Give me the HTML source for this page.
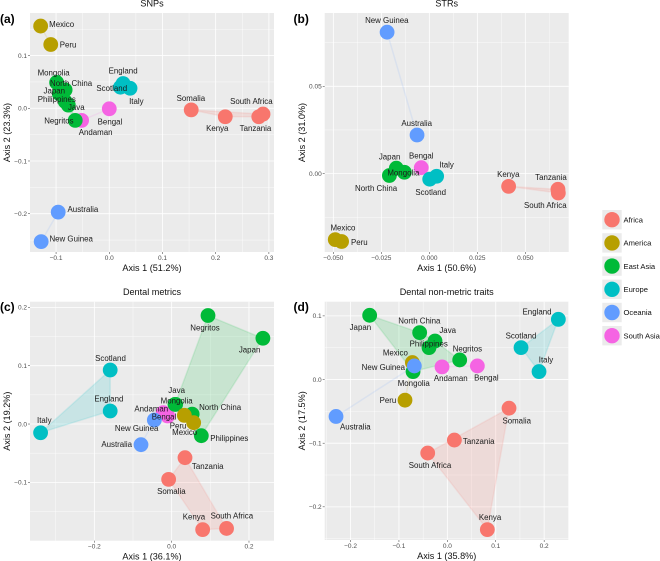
<!DOCTYPE html>
<html lang="en">
<head>
<meta charset="utf-8">
<title>Ordination plots</title>
<style>
html,body{margin:0;padding:0;background:#fff;}
svg{display:block;font-family:"Liberation Sans",sans-serif;}
</style>
</head>
<body>
<svg id="figure" xmlns="http://www.w3.org/2000/svg" width="660" height="561" viewBox="0 0 660 561"></svg>
<script>
// ---------- Legend data ----------
const groupNames = ["Africa", "America", "East Asia", "Europe", "Oceania", "South Asia"];

// ---------- (a) SNPs ----------
const snpNames = ["Andaman", "Bengal", "Mongolia", "North China", "Japan", "Philippines", "Java", "Negritos", "Mexico", "Peru", "England", "Scotland", "Italy", "Australia", "New Guinea", "Somalia", "Kenya", "Tanzania", "South Africa"];
const snpGroups = ["South Asia", "South Asia", "East Asia", "East Asia", "East Asia", "East Asia", "East Asia", "East Asia", "America", "America", "Europe", "Europe", "Europe", "Oceania", "Oceania", "Africa", "Africa", "Africa", "Africa"];
const snpX = [-0.052, 0, -0.099, -0.083, -0.094, -0.083, -0.077, -0.064, -0.129, -0.11, 0.026, 0.021, 0.039, -0.096, -0.128, 0.154, 0.218, 0.281, 0.289];
const snpY = [-0.023, -0.001, 0.049, 0.035, 0.028, 0.013, 0.006, -0.023, 0.156, 0.121, 0.047, 0.04, 0.038, -0.197, -0.253, -0.003, -0.016, -0.016, -0.011];
const snpXTicks = [-0.1, 0, 0.1, 0.2, 0.3];
const snpYTicks = [-0.2, -0.1, 0, 0.1];
const snpXTickLabels = ["\u22120.1", "0.0", "0.1", "0.2", "0.3"];
const snpYTickLabels = ["\u22120.2", "\u22120.1", "0.0", "0.1"];

// ---------- (b) STRs ----------
const strNames = ["Bengal", "Japan", "Mongolia", "North China", "Mexico", "Peru", "Italy", "Scotland", "New Guinea", "Australia", "Kenya", "Tanzania", "South Africa"];
const strGroups = ["South Asia", "East Asia", "East Asia", "East Asia", "America", "America", "Europe", "Europe", "Oceania", "Oceania", "Africa", "Africa", "Africa"];
const strX = [-0.0042, -0.0172, -0.013, -0.0208, -0.049, -0.0457, 0.0038, 0.0002, -0.022, -0.0064, 0.0413, 0.067, 0.0672];
const strY = [0.0034, 0.0031, 0.0008, -0.0011, -0.0378, -0.0389, -0.0015, -0.0032, 0.081, 0.0221, -0.0073, -0.009, -0.0111];
const strXTicks = [-0.05, -0.025, 0, 0.025, 0.05];
const strYTicks = [0, 0.05];
const strXTickLabels = ["\u22120.050", "\u22120.025", "0.000", "0.025", "0.050"];
const strYTickLabels = ["0.00", "0.05"];

// ---------- (c) Dental metrics ----------
const metricNames = ["Andaman", "Bengal", "Negritos", "Japan", "Java", "Mongolia", "North China", "Philippines", "Peru", "Mexico", "Scotland", "England", "Italy", "New Guinea", "Australia", "Tanzania", "Somalia", "Kenya", "South Africa"];
const metricGroups = ["South Asia", "South Asia", "East Asia", "East Asia", "East Asia", "East Asia", "East Asia", "East Asia", "America", "America", "Europe", "Europe", "Europe", "Oceania", "Oceania", "Africa", "Africa", "Africa", "Africa"];
const metricX = [-0.0216, -0.0103, 0.094, 0.236, 0.0103, 0.0086, 0.053, 0.0767, 0.0328, 0.0569, -0.159, -0.159, -0.339, -0.0448, -0.0793, 0.0345, -0.0078, 0.0802, 0.142];
const metricY = [0.0194, 0.0137, 0.186, 0.147, 0.0337, 0.0337, 0.017, -0.02, 0.0149, 0.0023, 0.0926, 0.0223, -0.0149, 0.0069, -0.0354, -0.0577, -0.0949, -0.181, -0.179];
const metricXTicks = [-0.2, 0, 0.2];
const metricYTicks = [-0.1, 0, 0.1, 0.2];
const metricXTickLabels = ["\u22120.2", "0.0", "0.2"];
const metricYTickLabels = ["\u22120.1", "0.0", "0.1", "0.2"];

// ---------- (d) Dental non-metric traits ----------
const traitNames = ["Andaman", "Bengal", "Japan", "North China", "Java", "Philippines", "Negritos", "Mongolia", "Mexico", "Peru", "England", "Scotland", "Italy", "New Guinea", "Australia", "Somalia", "Tanzania", "South Africa", "Kenya"];
const traitGroups = ["South Asia", "South Asia", "East Asia", "East Asia", "East Asia", "East Asia", "East Asia", "East Asia", "America", "America", "Europe", "Europe", "Europe", "Oceania", "Oceania", "Africa", "Africa", "Africa", "Africa"];
const traitX = [-0.011, 0.062, -0.1605, -0.0572, -0.0255, -0.0379, 0.0255, -0.0709, -0.0723, -0.0875, 0.2293, 0.1522, 0.1894, -0.0682, -0.23, 0.1274, 0.0145, -0.0406, 0.0826];
const traitY = [0.0199, 0.0214, 0.1009, 0.0737, 0.0606, 0.0502, 0.0308, 0.0125, 0.0267, -0.0324, 0.0946, 0.0502, 0.0125, 0.0214, -0.058, -0.045, -0.0951, -0.1155, -0.2358];
const traitXTicks = [-0.2, -0.1, 0, 0.1, 0.2];
const traitYTicks = [-0.2, -0.1, 0, 0.1];
const traitXTickLabels = ["\u22120.2", "\u22120.1", "0.0", "0.1", "0.2"];
const traitYTickLabels = ["\u22120.2", "\u22120.1", "0.0", "0.1"];

// ---------- Layout (not data) ----------
const palette = {"Africa": "#F8766D", "America": "#B79F00", "East Asia": "#00BA38", "Europe": "#00BFC4", "Oceania": "#619CFF", "South Asia": "#F564E3"};
const panels = [
  {
    id: "snps", tag: "(a)", title: "SNPs", xTitle: "Axis 1 (51.2%)", yTitle: "Axis 2 (23.3%)",
    box: {l: 30, r: 274, t: 13, b: 252}, xDomain: [-0.149, 0.3096], yDomain: [-0.2727, 0.1808],
    names: snpNames, groups: snpGroups, xs: snpX, ys: snpY,
    xTicks: snpXTicks, yTicks: snpYTicks, xTickLabels: snpXTickLabels, yTickLabels: snpYTickLabels,
    titleY: 3.5, tagX: 0, tagY: 19, yTitleX: 7,
    nudges: {"Mexico": [21, -1.7], "Peru": [17.3, 0.3], "Mongolia": [-3, -10], "North China": [6, -6.7], "Japan": [-5, -3], "Philippines": [-8.3, -2.3], "Java": [8, 2], "Negritos": [-16.3, 0.3], "Andaman": [14, 11.7], "Bengal": [0.7, 12.7], "England": [0, -13], "Scotland": [-8.7, 1], "Italy": [6.3, 12.7], "Somalia": [-0.3, -11.7], "Kenya": [-8, 11.7], "Tanzania": [-3.3, 11.3], "South Africa": [-11.7, -13], "Australia": [24.7, -2.7], "New Guinea": [30, -2.7]}
  },
  {
    id: "strs", tag: "(b)", title: "STRs", xTitle: "Axis 1 (50.6%)", yTitle: "Axis 2 (31.0%)",
    box: {l: 324.7, r: 568.7, t: 13, b: 252}, xDomain: [-0.0545, 0.0726], yDomain: [-0.0449, 0.092],
    names: strNames, groups: strGroups, xs: strX, ys: strY,
    xTicks: strXTicks, yTicks: strYTicks, xTickLabels: strXTickLabels, yTickLabels: strYTickLabels,
    titleY: 3.5, tagX: 293.5, tagY: 19, yTitleX: 302,
    nudges: {"New Guinea": [-0.3, -12], "Australia": [-0.3, -12], "Japan": [-6.7, -11.3], "Mongolia": [-1, 0.3], "North China": [-13.3, 12.7], "Bengal": [0, -12], "Italy": [10, -11.3], "Scotland": [1, 13], "Kenya": [-0.3, -12.3], "Tanzania": [-7, -12], "South Africa": [-13, 12.3], "Mexico": [7.7, -12], "Peru": [17.7, 0.7]}
  },
  {
    id: "metrics", tag: "(c)", title: "Dental metrics", xTitle: "Axis 1 (36.1%)", yTitle: "Axis 2 (19.2%)",
    box: {l: 30, r: 274, t: 301.7, b: 540.7}, xDomain: [-0.3664, 0.2647], yDomain: [-0.2, 0.2097],
    names: metricNames, groups: metricGroups, xs: metricX, ys: metricY,
    xTicks: metricXTicks, yTicks: metricYTicks, xTickLabels: metricXTickLabels, yTickLabels: metricYTickLabels,
    titleY: 292, tagX: 0, tagY: 307, yTitleX: 7,
    nudges: {"Negritos": [-3, 12.3], "Japan": [-13.3, 11.3], "Scotland": [0.3, -11.7], "England": [-1.3, -12.3], "Italy": [3.7, -12.7], "Java": [1, -14.3], "Mongolia": [1.7, -3.7], "North China": [28, -7], "Andaman": [-12, -4], "Bengal": [-3.7, 0.7], "New Guinea": [-17.7, 8], "Australia": [-24.3, -0.3], "Peru": [-6.3, 10.3], "Mexico": [-9, 9.3], "Philippines": [28, 2.3], "Tanzania": [22.7, 8.3], "Somalia": [2.7, 12], "Kenya": [-8.7, -12.7], "South Africa": [5.3, -12.7]}
  },
  {
    id: "traits", tag: "(d)", title: "Dental non-metric traits", xTitle: "Axis 1 (35.8%)", yTitle: "Axis 2 (17.5%)",
    box: {l: 324.7, r: 568.7, t: 301.7, b: 540}, xDomain: [-0.2534, 0.2507], yDomain: [-0.2521, 0.1223],
    names: traitNames, groups: traitGroups, xs: traitX, ys: traitY,
    xTicks: traitXTicks, yTicks: traitYTicks, xTickLabels: traitXTickLabels, yTickLabels: traitYTickLabels,
    titleY: 292, tagX: 293.5, tagY: 307, yTitleX: 302,
    nudges: {"Japan": [-9.3, 11.7], "North China": [-0.3, -12], "Java": [12.7, -10.7], "Philippines": [-0.3, -3.7], "Negritos": [7.7, -11], "Mongolia": [0.7, 11.7], "Mexico": [-17, -10], "New Guinea": [-31, 1.3], "Andaman": [8.7, 11.3], "Bengal": [9, 12], "Peru": [-17, 0], "Australia": [19.3, 10], "England": [-21.3, -7.7], "Scotland": [0, -12], "Italy": [7, -11.7], "Somalia": [7.7, 12.7], "Tanzania": [24.3, 1], "South Africa": [2.3, 12.3], "Kenya": [2.7, -12.3]}
  }
];

const SVG_NS = "http://www.w3.org/2000/svg";
const root = document.getElementById("figure");

function make(tag, attrs, parent, content) {
  const el = document.createElementNS(SVG_NS, tag);
  for (const k in attrs) el.setAttribute(k, attrs[k]);
  if (content !== undefined) el.textContent = content;
  parent.appendChild(el);
  return el;
}

function linearScale(domain, range) {
  return function (v) {
    return range[0] + (v - domain[0]) / (domain[1] - domain[0]) * (range[1] - range[0]);
  };
}

function minorTicks(ticks, domain) {
  const step = ticks.length > 1 ? ticks[1] - ticks[0] : 0.05;
  const out = [];
  for (let v = ticks[0] - step / 2; v <= domain[1]; v += step) {
    if (v >= domain[0]) out.push(v);
  }
  return out;
}

function convexHull(pts) {
  const p = pts.slice().sort(function (a, b) { return a[0] - b[0] || a[1] - b[1]; });
  if (p.length < 3) return p;
  const cross = function (o, a, b) { return (a[0] - o[0]) * (b[1] - o[1]) - (a[1] - o[1]) * (b[0] - o[0]); };
  const lower = [];
  for (const q of p) {
    while (lower.length >= 2 && cross(lower[lower.length - 2], lower[lower.length - 1], q) <= 0) lower.pop();
    lower.push(q);
  }
  const upper = [];
  for (const q of p.slice().reverse()) {
    while (upper.length >= 2 && cross(upper[upper.length - 2], upper[upper.length - 1], q) <= 0) upper.pop();
    upper.push(q);
  }
  lower.pop();
  upper.pop();
  return lower.concat(upper);
}

function slug(s) {
  return s.toLowerCase().replace(/[^a-z0-9]+/g, "-");
}

function drawPanel(cfg) {
  const box = cfg.box;
  const xScale = linearScale(cfg.xDomain, [box.l, box.r]);
  const yScale = linearScale(cfg.yDomain, [box.b, box.t]);

  const g = make("g", {}, root);
  
  

  const bg = make("rect", {x: box.l, y: box.t, width: box.r - box.l, height: box.b - box.t, fill: "#EBEBEB"}, g);
  
  

  // gridlines
  const grid = make("g", {stroke: "#fff", fill: "none"}, g);
  
  
  minorTicks(cfg.xTicks, cfg.xDomain).forEach(function (v) {
    make("line", {x1: xScale(v), x2: xScale(v), y1: box.t, y2: box.b, "stroke-width": 0.4}, grid);
  });
  minorTicks(cfg.yTicks, cfg.yDomain).forEach(function (v) {
    make("line", {x1: box.l, x2: box.r, y1: yScale(v), y2: yScale(v), "stroke-width": 0.4}, grid);
  });
  cfg.xTicks.forEach(function (v) {
    make("line", {x1: xScale(v), x2: xScale(v), y1: box.t, y2: box.b, "stroke-width": 0.8}, grid);
  });
  cfg.yTicks.forEach(function (v) {
    make("line", {x1: box.l, x2: box.r, y1: yScale(v), y2: yScale(v), "stroke-width": 0.8}, grid);
  });

  // axis ticks and labels
  cfg.xTicks.forEach(function (v, i) {
    make("line", {x1: xScale(v), x2: xScale(v), y1: box.b, y2: box.b + 2, stroke: "#333", "stroke-width": 0.5}, g);
    const t = make("text", {x: xScale(v), y: box.b + 8, "text-anchor": "middle", "font-size": 6.5, fill: "#4D4D4D"}, g, cfg.xTickLabels[i]);
    
    
  });
  cfg.yTicks.forEach(function (v, i) {
    make("line", {x1: box.l - 2, x2: box.l, y1: yScale(v), y2: yScale(v), stroke: "#333", "stroke-width": 0.5}, g);
    const t = make("text", {x: box.l - 3, y: yScale(v) + 2.3, "text-anchor": "end", "font-size": 6.5, fill: "#4D4D4D"}, g, cfg.yTickLabels[i]);
    
    
  });

  // hulls per group
  const hulls = make("g", {}, g);
  
  
  groupNames.forEach(function (grp) {
    const pts = [];
    cfg.groups.forEach(function (gn, i) {
      if (gn === grp) pts.push([xScale(cfg.xs[i]), yScale(cfg.ys[i])]);
    });
    if (pts.length < 2) return;
    const poly = make("polygon", {
      points: convexHull(pts).map(function (p) { return p[0].toFixed(2) + "," + p[1].toFixed(2); }).join(" "),
      fill: palette[grp], "fill-opacity": 0.15, stroke: palette[grp], "stroke-opacity": 0.12, "stroke-width": 1.5, "stroke-linejoin": "round"
    }, hulls);
    
    
  });

  // points
  const points = make("g", {}, g);
  
  
  cfg.names.forEach(function (name, i) {
    const c = make("circle", {cx: xScale(cfg.xs[i]), cy: yScale(cfg.ys[i]), r: 7.4, fill: palette[cfg.groups[i]]}, points);
    
    
  });

  // point labels
  const labels = make("g", {"font-size": 7.9, fill: "#1a1a1a", "text-anchor": "middle"}, g);
  
  
  cfg.names.forEach(function (name, i) {
    const n = cfg.nudges[name] || [0, -12];
    const t = make("text", {x: xScale(cfg.xs[i]) + n[0], y: yScale(cfg.ys[i]) + n[1] + 2.8}, labels, name);
    
    
  });

  // titles
  const midX = (box.l + box.r) / 2;
  const midY = (box.t + box.b) / 2;
  const title = make("text", {x: midX, y: cfg.titleY + 3.2, "text-anchor": "middle", "font-size": 9.1, fill: "#111"}, g, cfg.title);
  
  

  const xt = make("text", {x: midX, y: box.b + 18.8, "text-anchor": "middle", "font-size": 9.1, fill: "#111"}, g, cfg.xTitle);
  
  

  const yt = make("text", {x: 0, y: 0, transform: "translate(" + (cfg.yTitleX + 3.2) + "," + midY + ") rotate(-90)", "text-anchor": "middle", "font-size": 9.1, fill: "#111"}, g, cfg.yTitle);
  
  

  const tag = make("text", {x: cfg.tagX, y: cfg.tagY + 4, "font-size": 12, "font-weight": "bold", fill: "#000"}, g, cfg.tag);
  
  
}

function drawLegend() {
  const legend = make("g", {}, root);
  
  
  const keyLeft = 602.3, keyTop = 210, keySize = 19.4, rowStep = 23.2;
  groupNames.forEach(function (grp, i) {
    const top = keyTop + i * rowStep;
    const row = make("g", {}, legend);
    
    
    make("rect", {x: keyLeft, y: top, width: keySize, height: keySize, fill: "#EBEBEB"}, row);
    make("circle", {cx: keyLeft + keySize / 2, cy: top + keySize / 2, r: 7.7, fill: palette[grp]}, row);
    make("text", {x: 623.5, y: top + keySize / 2 + 2.7, "font-size": 7.6, fill: "#111"}, row, grp);
  });
}

panels.forEach(drawPanel);
drawLegend();
</script>
</body>
</html>
